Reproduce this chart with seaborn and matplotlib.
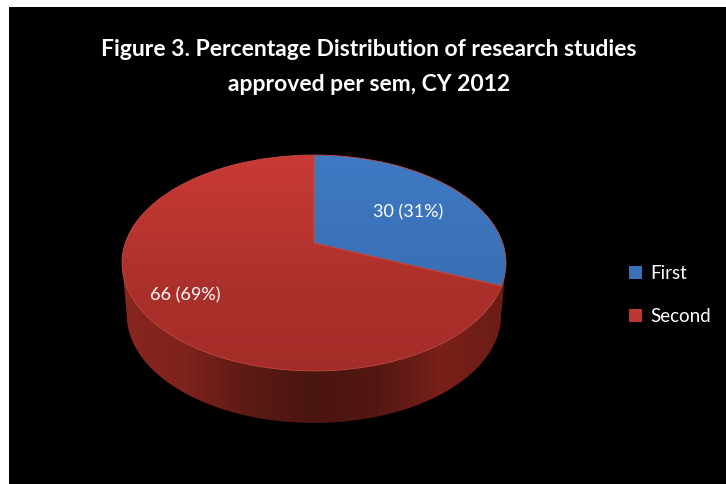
import matplotlib
matplotlib.use("Agg")
import matplotlib.pyplot as plt
from matplotlib.colors import LinearSegmentedColormap
from matplotlib.patches import Patch, Polygon
from matplotlib.transforms import Transform
import numpy as np
import seaborn as sns

title_lines = ["Figure 3. Percentage Distribution of research studies",
               "approved per sem, CY 2012"]
categories = ["First", "Second"]
studies = [30, 66]

# colours: top of face, bottom of face
face_colors = [["#3f7ac4", "#3263a3"], ["#c93a35", "#ab302b", "#a02a26"]]
side_colors = ["#8a2620", "#7d221c", "#5c1a14", "#4a1510", "#551712", "#7a201a", "#6a1c16"]
legend_colors = ["#3a70b5", "#bc3733"]

sns.set_theme(style="dark")
plt.rcParams["font.family"] = ["Lato", "DejaVu Sans"]

# pie geometry in pixels, fitted to the tilted disc
CX, CY = 314, 243
TILT = 0.185
SQUASH_X = 188.7
SQUASH_Y = 59.3
DEPTH = 52
SHRINK = 0.975


def project(u, v):
    w = 1 + TILT * v
    return CX + SQUASH_X * u / w, (CY - SQUASH_Y * v) / w


class TiltTransform(Transform):
    input_dims = 2
    output_dims = 2
    is_affine = False
    has_inverse = False

    def transform_non_affine(self, values):
        values = np.asarray(values)
        x, y = project(values[:, 0], values[:, 1])
        return np.column_stack([x, y])


def gradient(ax, colors, clip, horizontal=False, zorder=2):
    cmap = LinearSegmentedColormap.from_list("g", colors)
    ramp = np.linspace(0, 1, 256)
    ramp = ramp.reshape(1, -1) if horizontal else ramp.reshape(-1, 1)
    im = ax.imshow(ramp, cmap=cmap, aspect="auto", zorder=zorder,
                   extent=(122, 506, 425, 153), interpolation="bilinear")
    im.set_clip_path(clip)
    return im


fig = plt.figure(figsize=(7.26, 4.84), dpi=100, facecolor="white")
ax = fig.add_axes([9 / 726, 0, 717 / 726, 477 / 484], facecolor="black")

wedges, _ = ax.pie(studies, startangle=90, counterclock=False, frame=True,
                   wedgeprops={"facecolor": "none", "edgecolor": "#bf4a42",
                               "linewidth": 0.6, "zorder": 5})
tilt = TiltTransform() + ax.transData

# side wall first, the top face covers the part at the back
turn = np.arccos(-TILT)
upper = np.linspace(-turn, turn, 120)
lower = np.linspace(turn, 2 * np.pi - turn, 120)
ux, uy = project(np.sin(upper), np.cos(upper))
lx, ly = project(np.sin(lower), np.cos(lower))
lx = CX + SHRINK * (lx - CX)
ly = ly + DEPTH
wall = Polygon(np.column_stack([np.r_[ux, lx], np.r_[uy, ly]]), closed=True,
               facecolor="none", edgecolor="none", transform=ax.transData)
ax.add_patch(wall)
gradient(ax, side_colors, wall, horizontal=True, zorder=1)

for wedge, colors in zip(wedges, face_colors):
    wedge.set_transform(tilt)
    gradient(ax, colors, wedge, zorder=2)

ax.set_aspect("auto")
ax.set_xlim(9, 726)
ax.set_ylim(484, 7)
ax.set_xticks([])
ax.set_yticks([])
ax.grid(False)
for spine in ax.spines.values():
    spine.set_visible(False)

ax.text(369, 50, title_lines[0], color="white", fontsize=16.5, fontweight="bold",
        ha="center", va="center")
ax.text(369, 85, title_lines[1], color="white", fontsize=16.5, fontweight="bold",
        ha="center", va="center")

percents = [round(100 * s / sum(studies)) for s in studies]
label_pos = [(408, 212), (185, 295)]
for s, p, (x, y) in zip(studies, percents, label_pos):
    ax.text(x, y, f"{s} ({p}%)", color="white", fontsize=13, ha="center", va="center",
            zorder=6)

handles = [Patch(facecolor=c, edgecolor="none") for c in legend_colors]
ax.legend(handles, categories, loc="center left", bbox_to_anchor=(629, 295),
          bbox_transform=ax.transData, borderaxespad=0, borderpad=0,
          frameon=False, labelcolor="white", fontsize=13.5, handlelength=0.7,
          handleheight=0.7, handletextpad=0.43, labelspacing=1.4)

fig.savefig("out.png", dpi=100, facecolor="white")
